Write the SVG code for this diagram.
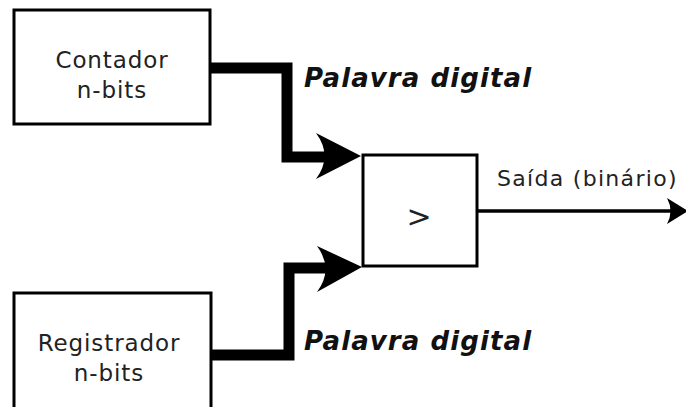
<svg xmlns="http://www.w3.org/2000/svg" width="686" height="407" viewBox="0 0 686 407">
<style>
.box{fill:#fff;stroke:#000;stroke-width:3}
.lbl{font-family:"DejaVu Sans",sans-serif;font-size:23px;fill:#222;text-anchor:middle;letter-spacing:0.9px}
.bus{fill:none;stroke:#000;stroke-width:11;stroke-linejoin:miter}
.wire{fill:none;stroke:#000;stroke-width:3.5}
.head{fill:#000;stroke:none}
.word{font-family:"DejaVu Sans",sans-serif;font-size:26px;font-weight:bold;font-style:italic;fill:#111;letter-spacing:1.1px}
.out{font-family:"DejaVu Sans",sans-serif;font-size:22px;fill:#222;letter-spacing:1.3px}
.gt{font-family:"DejaVu Sans",sans-serif;font-size:30px;fill:#222;text-anchor:middle}
</style>
<rect width="686" height="407" fill="#fff"/>
<g id="connectors">
<path class="bus" d="M210,68 H287 V157 H335"/>
<path class="head" d="M361,156 L316,133 Q333,156 316,179 Z"/>
<path class="bus" d="M211,355 H289 V268 H337"/>
<path class="head" d="M362,267 L317,246 Q334,269 317,292 Z"/>
<path class="wire" d="M477,211 H674"/>
<path class="head" d="M688,211 L667,198 Q674,211 667,224 Z"/>
</g>
<g id="contador">
<rect class="box" x="14" y="10" width="196" height="114"/>
<text class="lbl" x="112" y="68">Contador</text>
<text class="lbl" x="112" y="98">n-bits</text>
</g>
<g id="registrador">
<rect class="box" x="14" y="293" width="197" height="120"/>
<text class="lbl" x="109" y="351">Registrador</text>
<text class="lbl" x="109" y="381">n-bits</text>
</g>
<g id="comparador">
<rect class="box" x="363" y="155" width="114" height="111"/>
<text class="gt" x="419" y="227">&gt;</text>
</g>
<text class="word" x="304" y="87">Palavra digital</text>
<text class="word" x="304" y="350">Palavra digital</text>
<text class="out" x="497" y="186">Saída (binário)</text>
</svg>
